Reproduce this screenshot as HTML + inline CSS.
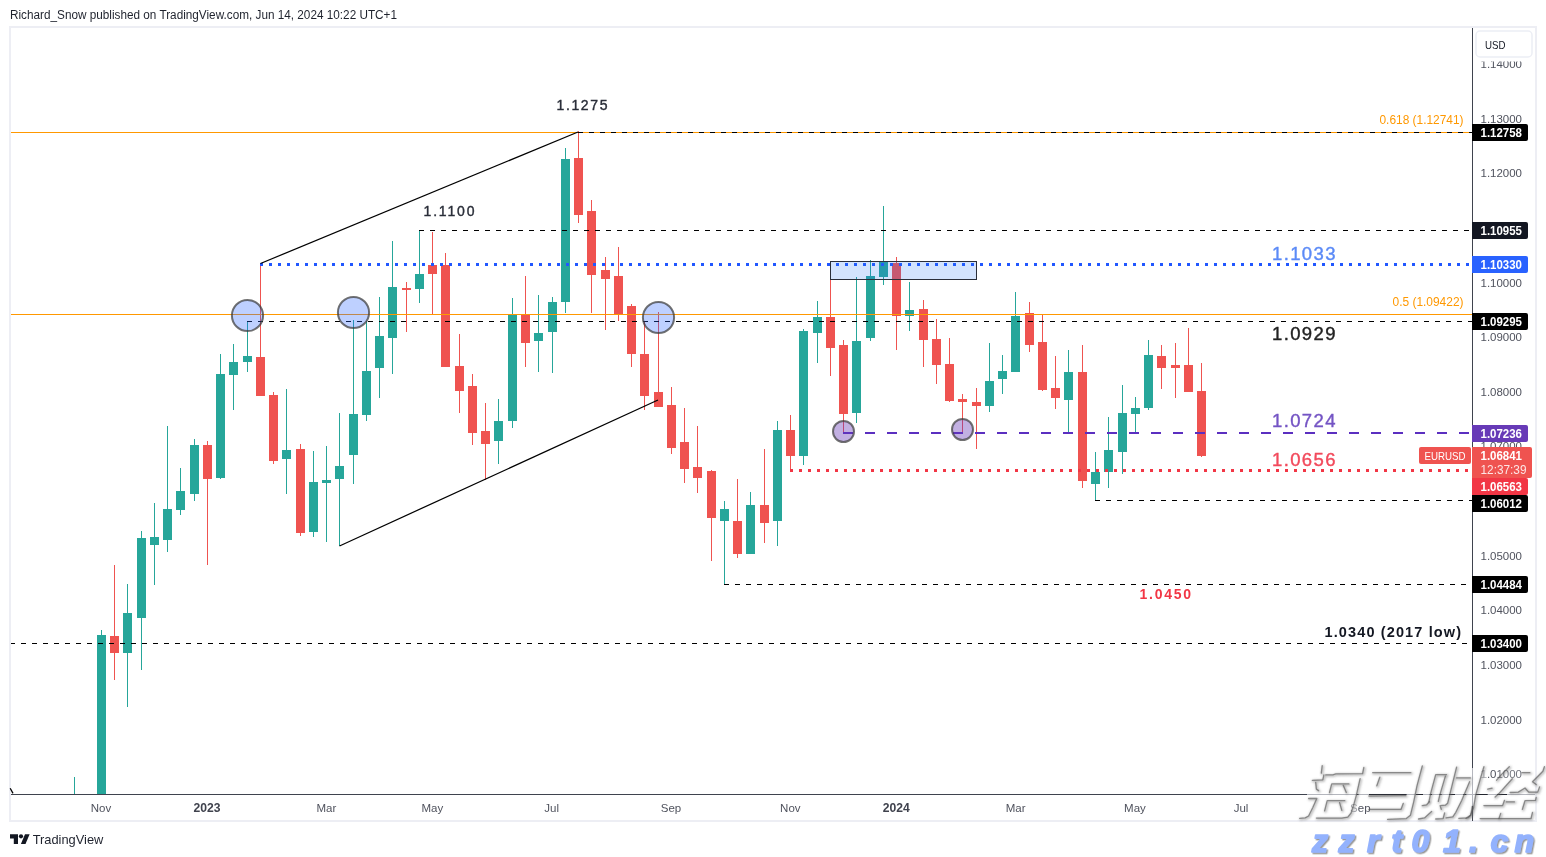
<!DOCTYPE html>
<html><head><meta charset="utf-8"><title>EURUSD weekly chart</title>
<style>html,body{margin:0;padding:0;background:#fff;}body{width:1546px;height:857px;overflow:hidden;}svg{display:block;font-family:"Liberation Sans",sans-serif;will-change:transform;}</style></head><body>
<svg width="1546" height="857" viewBox="0 0 1546 857">
<defs>
<clipPath id="pane"><rect x="11" y="28" width="1461" height="766"/></clipPath>
<filter id="wmsh" x="-5%" y="-10%" width="110%" height="125%"><feDropShadow dx="1.6" dy="1.6" stdDeviation="0.7" flood-color="#000" flood-opacity="0.6"/></filter>
<filter id="wmsh2" x="-5%" y="-10%" width="110%" height="130%"><feDropShadow dx="1.3" dy="1.3" stdDeviation="0.5" flood-color="#555" flood-opacity="0.55"/></filter>
</defs>
<rect width="1546" height="857" fill="#ffffff"/>
<text x="10" y="18.8" font-size="12" fill="#1e222d" textLength="387" lengthAdjust="spacingAndGlyphs">Richard_Snow published on TradingView.com, Jun 14, 2024 10:22 UTC+1</text>
<rect x="10" y="27" width="1526" height="794" fill="none" stroke="#edeef4" stroke-width="2"/>
<g clip-path="url(#pane)" shape-rendering="crispEdges">
<rect x="74" y="777" width="1" height="20" fill="#26a69a"/>
<rect x="101" y="630" width="1" height="164" fill="#26a69a"/>
<rect x="97" y="635" width="9" height="159" fill="#26a69a"/>
<rect x="114" y="565" width="1" height="115" fill="#ef5350"/>
<rect x="110" y="636" width="9" height="17" fill="#ef5350"/>
<rect x="127" y="584" width="1" height="123" fill="#26a69a"/>
<rect x="123" y="613" width="9" height="40" fill="#26a69a"/>
<rect x="141" y="531" width="1" height="139" fill="#26a69a"/>
<rect x="137" y="538" width="9" height="80" fill="#26a69a"/>
<rect x="154" y="503" width="1" height="82" fill="#26a69a"/>
<rect x="150" y="537" width="9" height="8" fill="#26a69a"/>
<rect x="167" y="426" width="1" height="126" fill="#26a69a"/>
<rect x="163" y="509" width="9" height="31" fill="#26a69a"/>
<rect x="180" y="468" width="1" height="47" fill="#26a69a"/>
<rect x="176" y="491" width="9" height="19" fill="#26a69a"/>
<rect x="194" y="439" width="1" height="62" fill="#26a69a"/>
<rect x="190" y="445" width="9" height="49" fill="#26a69a"/>
<rect x="207" y="441" width="1" height="124" fill="#ef5350"/>
<rect x="203" y="445" width="9" height="34" fill="#ef5350"/>
<rect x="220" y="354" width="1" height="125" fill="#26a69a"/>
<rect x="216" y="374" width="9" height="104" fill="#26a69a"/>
<rect x="233" y="344" width="1" height="66" fill="#26a69a"/>
<rect x="229" y="362" width="9" height="13" fill="#26a69a"/>
<rect x="247" y="321" width="1" height="51" fill="#26a69a"/>
<rect x="243" y="356" width="9" height="6" fill="#26a69a"/>
<rect x="260" y="264" width="1" height="132" fill="#ef5350"/>
<rect x="256" y="357" width="9" height="39" fill="#ef5350"/>
<rect x="273" y="392" width="1" height="72" fill="#ef5350"/>
<rect x="269" y="395" width="9" height="66" fill="#ef5350"/>
<rect x="286" y="389" width="1" height="105" fill="#26a69a"/>
<rect x="282" y="450" width="9" height="9" fill="#26a69a"/>
<rect x="300" y="444" width="1" height="92" fill="#ef5350"/>
<rect x="296" y="449" width="9" height="84" fill="#ef5350"/>
<rect x="313" y="451" width="1" height="86" fill="#26a69a"/>
<rect x="309" y="482" width="9" height="50" fill="#26a69a"/>
<rect x="326" y="446" width="1" height="96" fill="#26a69a"/>
<rect x="322" y="480" width="9" height="3" fill="#26a69a"/>
<rect x="339" y="413" width="1" height="133" fill="#26a69a"/>
<rect x="335" y="466" width="9" height="13" fill="#26a69a"/>
<rect x="353" y="320" width="1" height="164" fill="#26a69a"/>
<rect x="349" y="414" width="9" height="41" fill="#26a69a"/>
<rect x="366" y="321" width="1" height="100" fill="#26a69a"/>
<rect x="362" y="371" width="9" height="44" fill="#26a69a"/>
<rect x="379" y="297" width="1" height="101" fill="#26a69a"/>
<rect x="375" y="336" width="9" height="32" fill="#26a69a"/>
<rect x="392" y="241" width="1" height="133" fill="#26a69a"/>
<rect x="388" y="287" width="9" height="51" fill="#26a69a"/>
<rect x="406" y="282" width="1" height="50" fill="#ef5350"/>
<rect x="402" y="288" width="9" height="2" fill="#ef5350"/>
<rect x="419" y="230" width="1" height="73" fill="#26a69a"/>
<rect x="415" y="274" width="9" height="15" fill="#26a69a"/>
<rect x="432" y="232" width="1" height="82" fill="#ef5350"/>
<rect x="428" y="265" width="9" height="9" fill="#ef5350"/>
<rect x="445" y="253" width="1" height="114" fill="#ef5350"/>
<rect x="441" y="265" width="9" height="102" fill="#ef5350"/>
<rect x="459" y="334" width="1" height="79" fill="#ef5350"/>
<rect x="455" y="366" width="9" height="25" fill="#ef5350"/>
<rect x="472" y="374" width="1" height="71" fill="#ef5350"/>
<rect x="468" y="386" width="9" height="47" fill="#ef5350"/>
<rect x="485" y="403" width="1" height="77" fill="#ef5350"/>
<rect x="481" y="431" width="9" height="13" fill="#ef5350"/>
<rect x="498" y="399" width="1" height="65" fill="#26a69a"/>
<rect x="494" y="421" width="9" height="20" fill="#26a69a"/>
<rect x="512" y="298" width="1" height="130" fill="#26a69a"/>
<rect x="508" y="315" width="9" height="106" fill="#26a69a"/>
<rect x="525" y="276" width="1" height="91" fill="#ef5350"/>
<rect x="521" y="315" width="9" height="28" fill="#ef5350"/>
<rect x="538" y="295" width="1" height="77" fill="#26a69a"/>
<rect x="534" y="333" width="9" height="8" fill="#26a69a"/>
<rect x="552" y="297" width="1" height="76" fill="#26a69a"/>
<rect x="548" y="302" width="9" height="30" fill="#26a69a"/>
<rect x="565" y="148" width="1" height="165" fill="#26a69a"/>
<rect x="561" y="159" width="9" height="143" fill="#26a69a"/>
<rect x="578" y="131" width="1" height="92" fill="#ef5350"/>
<rect x="574" y="158" width="9" height="57" fill="#ef5350"/>
<rect x="591" y="200" width="1" height="113" fill="#ef5350"/>
<rect x="587" y="211" width="9" height="64" fill="#ef5350"/>
<rect x="605" y="257" width="1" height="73" fill="#ef5350"/>
<rect x="601" y="270" width="9" height="9" fill="#ef5350"/>
<rect x="618" y="247" width="1" height="74" fill="#ef5350"/>
<rect x="614" y="276" width="9" height="38" fill="#ef5350"/>
<rect x="631" y="304" width="1" height="63" fill="#ef5350"/>
<rect x="627" y="306" width="9" height="48" fill="#ef5350"/>
<rect x="644" y="321" width="1" height="89" fill="#ef5350"/>
<rect x="640" y="354" width="9" height="42" fill="#ef5350"/>
<rect x="658" y="312" width="1" height="95" fill="#ef5350"/>
<rect x="654" y="392" width="9" height="15" fill="#ef5350"/>
<rect x="671" y="387" width="1" height="67" fill="#ef5350"/>
<rect x="667" y="405" width="9" height="43" fill="#ef5350"/>
<rect x="684" y="408" width="1" height="75" fill="#ef5350"/>
<rect x="680" y="442" width="9" height="27" fill="#ef5350"/>
<rect x="697" y="426" width="1" height="67" fill="#ef5350"/>
<rect x="693" y="467" width="9" height="11" fill="#ef5350"/>
<rect x="711" y="470" width="1" height="91" fill="#ef5350"/>
<rect x="707" y="471" width="9" height="47" fill="#ef5350"/>
<rect x="724" y="501" width="1" height="83" fill="#26a69a"/>
<rect x="720" y="509" width="9" height="12" fill="#26a69a"/>
<rect x="737" y="479" width="1" height="79" fill="#ef5350"/>
<rect x="733" y="521" width="9" height="33" fill="#ef5350"/>
<rect x="750" y="492" width="1" height="62" fill="#26a69a"/>
<rect x="746" y="505" width="9" height="49" fill="#26a69a"/>
<rect x="764" y="449" width="1" height="94" fill="#ef5350"/>
<rect x="760" y="505" width="9" height="18" fill="#ef5350"/>
<rect x="777" y="421" width="1" height="125" fill="#26a69a"/>
<rect x="773" y="430" width="9" height="91" fill="#26a69a"/>
<rect x="790" y="415" width="1" height="57" fill="#ef5350"/>
<rect x="786" y="430" width="9" height="26" fill="#ef5350"/>
<rect x="803" y="329" width="1" height="136" fill="#26a69a"/>
<rect x="799" y="331" width="9" height="125" fill="#26a69a"/>
<rect x="817" y="301" width="1" height="62" fill="#26a69a"/>
<rect x="813" y="317" width="9" height="16" fill="#26a69a"/>
<rect x="830" y="261" width="1" height="115" fill="#ef5350"/>
<rect x="826" y="317" width="9" height="31" fill="#ef5350"/>
<rect x="843" y="340" width="1" height="92" fill="#ef5350"/>
<rect x="839" y="345" width="9" height="69" fill="#ef5350"/>
<rect x="856" y="277" width="1" height="146" fill="#26a69a"/>
<rect x="852" y="341" width="9" height="72" fill="#26a69a"/>
<rect x="870" y="260" width="1" height="81" fill="#26a69a"/>
<rect x="866" y="276" width="9" height="62" fill="#26a69a"/>
<rect x="883" y="206" width="1" height="79" fill="#26a69a"/>
<rect x="879" y="262" width="9" height="15" fill="#26a69a"/>
<rect x="896" y="257" width="1" height="93" fill="#ef5350"/>
<rect x="892" y="263" width="9" height="53" fill="#ef5350"/>
<rect x="909" y="282" width="1" height="49" fill="#26a69a"/>
<rect x="905" y="310" width="9" height="6" fill="#26a69a"/>
<rect x="923" y="300" width="1" height="67" fill="#ef5350"/>
<rect x="919" y="309" width="9" height="31" fill="#ef5350"/>
<rect x="936" y="319" width="1" height="65" fill="#ef5350"/>
<rect x="932" y="339" width="9" height="26" fill="#ef5350"/>
<rect x="949" y="338" width="1" height="64" fill="#ef5350"/>
<rect x="945" y="364" width="9" height="37" fill="#ef5350"/>
<rect x="962" y="394" width="1" height="38" fill="#ef5350"/>
<rect x="958" y="399" width="9" height="3" fill="#ef5350"/>
<rect x="976" y="388" width="1" height="61" fill="#ef5350"/>
<rect x="972" y="402" width="9" height="4" fill="#ef5350"/>
<rect x="989" y="343" width="1" height="69" fill="#26a69a"/>
<rect x="985" y="381" width="9" height="25" fill="#26a69a"/>
<rect x="1002" y="355" width="1" height="39" fill="#26a69a"/>
<rect x="998" y="371" width="9" height="8" fill="#26a69a"/>
<rect x="1015" y="292" width="1" height="80" fill="#26a69a"/>
<rect x="1011" y="316" width="9" height="56" fill="#26a69a"/>
<rect x="1029" y="302" width="1" height="50" fill="#ef5350"/>
<rect x="1025" y="313" width="9" height="32" fill="#ef5350"/>
<rect x="1042" y="315" width="1" height="76" fill="#ef5350"/>
<rect x="1038" y="342" width="9" height="48" fill="#ef5350"/>
<rect x="1055" y="356" width="1" height="53" fill="#ef5350"/>
<rect x="1051" y="388" width="9" height="10" fill="#ef5350"/>
<rect x="1068" y="350" width="1" height="83" fill="#26a69a"/>
<rect x="1064" y="372" width="9" height="28" fill="#26a69a"/>
<rect x="1082" y="345" width="1" height="143" fill="#ef5350"/>
<rect x="1078" y="372" width="9" height="109" fill="#ef5350"/>
<rect x="1095" y="452" width="1" height="48" fill="#26a69a"/>
<rect x="1091" y="472" width="9" height="12" fill="#26a69a"/>
<rect x="1108" y="417" width="1" height="71" fill="#26a69a"/>
<rect x="1104" y="450" width="9" height="22" fill="#26a69a"/>
<rect x="1122" y="385" width="1" height="89" fill="#26a69a"/>
<rect x="1118" y="413" width="9" height="39" fill="#26a69a"/>
<rect x="1135" y="397" width="1" height="36" fill="#26a69a"/>
<rect x="1131" y="408" width="9" height="6" fill="#26a69a"/>
<rect x="1148" y="340" width="1" height="70" fill="#26a69a"/>
<rect x="1144" y="355" width="9" height="53" fill="#26a69a"/>
<rect x="1161" y="345" width="1" height="44" fill="#ef5350"/>
<rect x="1157" y="356" width="9" height="12" fill="#ef5350"/>
<rect x="1175" y="343" width="1" height="55" fill="#ef5350"/>
<rect x="1171" y="365" width="9" height="3" fill="#ef5350"/>
<rect x="1188" y="328" width="1" height="64" fill="#ef5350"/>
<rect x="1184" y="365" width="9" height="27" fill="#ef5350"/>
<rect x="1201" y="363" width="1" height="94" fill="#ef5350"/>
<rect x="1197" y="391" width="9" height="65" fill="#ef5350"/>
</g>
<g clip-path="url(#pane)">
<rect x="11" y="132" width="1461" height="1" fill="#ff9800"/>
<rect x="11" y="314" width="1461" height="1" fill="#ff9800"/>
<line x1="578" y1="132.5" x2="1472" y2="132.5" stroke="#000" stroke-width="1" stroke-dasharray="5 6" stroke-dashoffset="0" shape-rendering="crispEdges"/>
<line x1="419" y1="230.5" x2="1472" y2="230.5" stroke="#000" stroke-width="1" stroke-dasharray="5 6" stroke-dashoffset="0" shape-rendering="crispEdges"/>
<line x1="247" y1="321.5" x2="1472" y2="321.5" stroke="#000" stroke-width="1" stroke-dasharray="5 6" stroke-dashoffset="0" shape-rendering="crispEdges"/>
<line x1="1095" y1="500.5" x2="1472" y2="500.5" stroke="#000" stroke-width="1" stroke-dasharray="5 6" stroke-dashoffset="0" shape-rendering="crispEdges"/>
<line x1="724" y1="584.5" x2="1472" y2="584.5" stroke="#000" stroke-width="1" stroke-dasharray="5 6" stroke-dashoffset="0" shape-rendering="crispEdges"/>
<line x1="11" y1="643.5" x2="1472" y2="643.5" stroke="#000" stroke-width="1" stroke-dasharray="5 6" stroke-dashoffset="1" shape-rendering="crispEdges"/>
<line x1="260" y1="264.5" x2="1472" y2="264.5" stroke="#2157ff" stroke-width="3" stroke-dasharray="3 6" shape-rendering="crispEdges"/>
<line x1="790" y1="470.5" x2="1472" y2="470.5" stroke="#f23645" stroke-width="3" stroke-dasharray="3 6" shape-rendering="crispEdges"/>
<line x1="843" y1="433" x2="1472" y2="433" stroke="#5b2fc0" stroke-width="2" stroke-dasharray="10 12" shape-rendering="crispEdges"/>
<rect x="830.5" y="261.5" width="146" height="18" fill="#2373f3" fill-opacity="0.2" stroke="#2a2e39" stroke-width="1"/>
<line x1="260.5" y1="263.5" x2="578" y2="132" stroke="#000" stroke-width="1.25"/>
<line x1="339.5" y1="546" x2="658" y2="400" stroke="#000" stroke-width="1.25"/>
<circle cx="247.5" cy="315.5" r="15.6" fill="#2962ff" fill-opacity="0.3" stroke="#3c3c3c" stroke-opacity="0.72" stroke-width="2"/>
<circle cx="353.5" cy="312.5" r="15.6" fill="#2962ff" fill-opacity="0.3" stroke="#3c3c3c" stroke-opacity="0.72" stroke-width="2"/>
<circle cx="658.5" cy="317.5" r="15.6" fill="#2962ff" fill-opacity="0.3" stroke="#3c3c3c" stroke-opacity="0.72" stroke-width="2"/>
<circle cx="843.5" cy="431.5" r="10.5" fill="#673ab7" fill-opacity="0.4" stroke="#3c3c3c" stroke-opacity="0.72" stroke-width="2"/>
<circle cx="962.5" cy="429.5" r="10.5" fill="#673ab7" fill-opacity="0.4" stroke="#3c3c3c" stroke-opacity="0.72" stroke-width="2"/>
</g>
<line x1="10.2" y1="788.3" x2="13" y2="793.4" stroke="#000" stroke-width="1.25"/>
<text x="556.5" y="110" font-size="14" fill="#2a2e39" textLength="51" lengthAdjust="spacing" stroke="#2a2e39" stroke-width="0.4">1.1275</text>
<text x="423.5" y="215.5" font-size="14" fill="#2a2e39" textLength="51" lengthAdjust="spacing" stroke="#2a2e39" stroke-width="0.4">1.1100</text>
<text x="1272" y="259.5" font-size="18.5" fill="#5b8af7" textLength="63.5" lengthAdjust="spacing" stroke="#5b8af7" stroke-width="0.4">1.1033</text>
<text x="1272" y="339.5" font-size="18.5" fill="#222222" textLength="63.5" lengthAdjust="spacing" stroke="#222" stroke-width="0.4">1.0929</text>
<text x="1272" y="427" font-size="18.5" fill="#7454c4" textLength="63.5" lengthAdjust="spacing" stroke="#7454c4" stroke-width="0.4">1.0724</text>
<text x="1272" y="466" font-size="18.5" fill="#f24a5c" textLength="63.5" lengthAdjust="spacing" stroke="#f24a5c" stroke-width="0.4">1.0656</text>
<text x="1139.5" y="599" font-size="14" fill="#f23645" font-weight="bold" textLength="51.5" lengthAdjust="spacing">1.0450</text>
<text x="1324.5" y="637" font-size="14.5" fill="#131722" font-weight="bold" textLength="136.5" lengthAdjust="spacing">1.0340 (2017 low)</text>
<text x="1379.5" y="124" font-size="12" fill="#ff9800" textLength="84" lengthAdjust="spacingAndGlyphs">0.618 (1.12741)</text>
<text x="1392.5" y="306" font-size="12" fill="#ff9800" textLength="71" lengthAdjust="spacingAndGlyphs">0.5 (1.09422)</text>
<rect x="1472" y="28" width="1" height="740" fill="#3f434e"/>
<rect x="1472" y="768" width="1" height="38" fill="#b4b6bd"/>
<rect x="1472" y="806" width="1" height="15" fill="#3f434e"/>
<rect x="11" y="794" width="1296" height="1" fill="#3f434e"/>
<rect x="1307" y="794" width="228" height="1" fill="#b4b6bd"/>
<rect x="1356.7" y="794" width="1.8" height="1" fill="#23262f"/>
<rect x="1369" y="794" width="37.6" height="1" fill="#23262f"/>
<rect x="1416" y="794" width="7.0" height="1" fill="#23262f"/>
<rect x="1429.7" y="794" width="2.3" height="1" fill="#23262f"/>
<rect x="1439.4" y="794" width="2.2" height="1" fill="#23262f"/>
<rect x="1449" y="794" width="6.0" height="1" fill="#23262f"/>
<rect x="1463.3" y="794" width="3.0" height="1" fill="#23262f"/>
<rect x="1475.7" y="794" width="12.0" height="1" fill="#23262f"/>
<rect x="1497" y="794" width="10.0" height="1" fill="#23262f"/>
<clipPath id="axclip"><rect x="1473" y="61.4" width="62" height="734"/></clipPath>
<g clip-path="url(#axclip)">
<text x="1480.5" y="68.1" font-size="11.5" fill="#50535e" textLength="41.5" lengthAdjust="spacingAndGlyphs">1.14000</text>
<text x="1480.5" y="122.7" font-size="11.5" fill="#50535e" textLength="41.5" lengthAdjust="spacingAndGlyphs">1.13000</text>
<text x="1480.5" y="177.29999999999998" font-size="11.5" fill="#50535e" textLength="41.5" lengthAdjust="spacingAndGlyphs">1.12000</text>
<text x="1480.5" y="286.59999999999997" font-size="11.5" fill="#50535e" textLength="41.5" lengthAdjust="spacingAndGlyphs">1.10000</text>
<text x="1480.5" y="341.2" font-size="11.5" fill="#50535e" textLength="41.5" lengthAdjust="spacingAndGlyphs">1.09000</text>
<text x="1480.5" y="395.8" font-size="11.5" fill="#50535e" textLength="41.5" lengthAdjust="spacingAndGlyphs">1.08000</text>
<text x="1480.5" y="450.4" font-size="11.5" fill="#50535e" textLength="41.5" lengthAdjust="spacingAndGlyphs">1.07000</text>
<text x="1480.5" y="559.7" font-size="11.5" fill="#50535e" textLength="41.5" lengthAdjust="spacingAndGlyphs">1.05000</text>
<text x="1480.5" y="614.3000000000001" font-size="11.5" fill="#50535e" textLength="41.5" lengthAdjust="spacingAndGlyphs">1.04000</text>
<text x="1480.5" y="668.9000000000001" font-size="11.5" fill="#50535e" textLength="41.5" lengthAdjust="spacingAndGlyphs">1.03000</text>
<text x="1480.5" y="723.6" font-size="11.5" fill="#50535e" textLength="41.5" lengthAdjust="spacingAndGlyphs">1.02000</text>
<text x="1480.5" y="778.2" font-size="11.5" fill="#50535e" textLength="41.5" lengthAdjust="spacingAndGlyphs">1.01000</text>
</g>
<rect x="1472" y="124" width="56" height="17" rx="2" ry="2" fill="#000000"/>
<rect x="1472" y="124" width="3" height="17" fill="#000000"/>
<text x="1480.5" y="137" font-size="12" fill="#ffffff" font-weight="bold" textLength="41.5" lengthAdjust="spacingAndGlyphs">1.12758</text>
<rect x="1472" y="222" width="56" height="17" rx="2" ry="2" fill="#131722"/>
<rect x="1472" y="222" width="3" height="17" fill="#131722"/>
<text x="1480.5" y="235" font-size="12" fill="#ffffff" font-weight="bold" textLength="41.5" lengthAdjust="spacingAndGlyphs">1.10955</text>
<rect x="1472" y="256" width="56" height="17" rx="2" ry="2" fill="#2962ff"/>
<rect x="1472" y="256" width="3" height="17" fill="#2962ff"/>
<text x="1480.5" y="269" font-size="12" fill="#ffffff" font-weight="bold" textLength="41.5" lengthAdjust="spacingAndGlyphs">1.10330</text>
<rect x="1472" y="313" width="56" height="17" rx="2" ry="2" fill="#000000"/>
<rect x="1472" y="313" width="3" height="17" fill="#000000"/>
<text x="1480.5" y="326" font-size="12" fill="#ffffff" font-weight="bold" textLength="41.5" lengthAdjust="spacingAndGlyphs">1.09295</text>
<rect x="1472" y="425" width="56" height="17" rx="2" ry="2" fill="#673ab7"/>
<rect x="1472" y="425" width="3" height="17" fill="#673ab7"/>
<text x="1480.5" y="438" font-size="12" fill="#ffffff" font-weight="bold" textLength="41.5" lengthAdjust="spacingAndGlyphs">1.07236</text>
<rect x="1419" y="447" width="52" height="17" rx="2" ry="2" fill="#ef5350"/>
<text x="1424.5" y="460" font-size="11.5" fill="#ffffff" textLength="41" lengthAdjust="spacingAndGlyphs">EURUSD</text>
<rect x="1472" y="447" width="60" height="31" rx="2" ry="2" fill="#ef5350"/>
<rect x="1472" y="447" width="3" height="31" fill="#ef5350"/>
<text x="1480.5" y="460" font-size="12" fill="#ffffff" font-weight="bold" textLength="41.5" lengthAdjust="spacingAndGlyphs">1.06841</text>
<text x="1480.5" y="474" font-size="12" fill="#ffffff" textLength="46" lengthAdjust="spacingAndGlyphs" fill-opacity="0.85">12:37:39</text>
<rect x="1472" y="478" width="56" height="17" rx="2" ry="2" fill="#f23645"/>
<rect x="1472" y="478" width="3" height="17" fill="#f23645"/>
<text x="1480.5" y="491" font-size="12" fill="#ffffff" font-weight="bold" textLength="41.5" lengthAdjust="spacingAndGlyphs">1.06563</text>
<rect x="1472" y="495" width="56" height="17" rx="2" ry="2" fill="#000000"/>
<rect x="1472" y="495" width="3" height="17" fill="#000000"/>
<text x="1480.5" y="508" font-size="12" fill="#ffffff" font-weight="bold" textLength="41.5" lengthAdjust="spacingAndGlyphs">1.06012</text>
<rect x="1472" y="576" width="56" height="17" rx="2" ry="2" fill="#000000"/>
<rect x="1472" y="576" width="3" height="17" fill="#000000"/>
<text x="1480.5" y="589" font-size="12" fill="#ffffff" font-weight="bold" textLength="41.5" lengthAdjust="spacingAndGlyphs">1.04484</text>
<rect x="1472" y="635" width="56" height="17" rx="2" ry="2" fill="#000000"/>
<rect x="1472" y="635" width="3" height="17" fill="#000000"/>
<text x="1480.5" y="648" font-size="12" fill="#ffffff" font-weight="bold" textLength="41.5" lengthAdjust="spacingAndGlyphs">1.03400</text>
<rect x="1476" y="31" width="56" height="26" rx="4" ry="4" fill="#ffffff" stroke="#eceef5" stroke-width="1.5"/>
<text x="1485" y="48.7" font-size="11.5" fill="#131722" textLength="20.5" lengthAdjust="spacingAndGlyphs">USD</text>
<text x="101.0" y="812" font-size="11.5" fill="#50535e" text-anchor="middle">Nov</text>
<text x="207.048" y="812" font-size="12" fill="#40434e" font-weight="bold" text-anchor="middle" textLength="27" lengthAdjust="spacingAndGlyphs">2023</text>
<text x="326.352" y="812" font-size="11.5" fill="#50535e" text-anchor="middle">Mar</text>
<text x="432.4" y="812" font-size="11.5" fill="#50535e" text-anchor="middle">May</text>
<text x="551.7040000000001" y="812" font-size="11.5" fill="#50535e" text-anchor="middle">Jul</text>
<text x="671.008" y="812" font-size="11.5" fill="#50535e" text-anchor="middle">Sep</text>
<text x="790.312" y="812" font-size="11.5" fill="#50535e" text-anchor="middle">Nov</text>
<text x="896.36" y="812" font-size="12" fill="#40434e" font-weight="bold" text-anchor="middle" textLength="27" lengthAdjust="spacingAndGlyphs">2024</text>
<text x="1015.664" y="812" font-size="11.5" fill="#50535e" text-anchor="middle">Mar</text>
<text x="1134.968" y="812" font-size="11.5" fill="#50535e" text-anchor="middle">May</text>
<text x="1241.016" y="812" font-size="11.5" fill="#50535e" text-anchor="middle">Jul</text>
<text x="1360.32" y="812" font-size="11.5" fill="#50535e" text-anchor="middle">Sep</text>
<g fill="#131722">
<path d="M10 834.3h8v9.7h-4.2v-5.6H10z"/>
<circle cx="21" cy="836.3" r="2.1"/>
<path d="M25 834.3h4.6l-4.1 9.7h-4.6z"/>
</g>
<text x="32.7" y="843.8" font-size="13" fill="#1e222d" textLength="70.7" lengthAdjust="spacingAndGlyphs">TradingView</text>
<rect x="1348" y="800" width="9.5" height="16" fill="#fff" fill-opacity="0.5"/>
<rect x="1478" y="762" width="8" height="16" fill="#fff" fill-opacity="0.5"/>
<rect x="1499" y="762" width="25" height="16" fill="#fff" fill-opacity="0.2"/>
<filter id="wmblur" x="-5%" y="-5%" width="110%" height="110%"><feGaussianBlur stdDeviation="0.4"/></filter>
<filter id="wmblur2" x="-5%" y="-5%" width="110%" height="110%"><feGaussianBlur stdDeviation="0.9"/></filter>
<g filter="url(#wmblur2)" transform="translate(0.8,0.8)" fill="none" stroke="#666" stroke-opacity="0.42" stroke-width="2.6" stroke-linejoin="round" stroke-linecap="round">
<polyline points="1322.2,765.6 1321.3,773.1"/>
<polyline points="1323.9,774.9 1322.8,779.8 1312.3,780.3"/>
<polyline points="1363.8,767.5 1362.6,773.6 1335.8,773.8 1332.8,774.9 1325.7,774.9"/>
<polyline points="1315.7,782.4 1316.4,789.1 1318.6,790.6"/>
<polyline points="1360.1,778.7 1356.4,795.1 1353.7,804.8 1351.1,813.0 1347.8,817.1 1341.8,818.1 1316.4,818.1"/>
<polyline points="1329.5,792.5 1331.7,783.9 1348.9,783.9"/>
<polyline points="1343.3,785.4 1346.3,792.5"/>
<polyline points="1324.6,810.8 1327.2,800.7 1344.8,800.7"/>
<polyline points="1339.6,802.6 1341.8,810.4"/>
<polyline points="1308.6,798.5 1316.8,798.5 1312.7,807.8 1308.6,816.0 1305.2,817.9 1299.6,818.3"/>
<polyline points="1372.7,772.7 1410.8,772.7"/>
<polyline points="1379.8,777.2 1376.8,785.8"/>
<polyline points="1422.3,766.0 1417.1,785.4 1413.7,801.8 1410.4,815.3 1406.3,818.6 1387.6,819.4"/>
<polyline points="1368.9,796.0 1405.9,795.7"/>
<polyline points="1403.3,803.3 1401.1,809.3 1368.9,809.3"/>
<polyline points="1428.9,801.8 1430.8,792.9 1435.7,774.6 1446.5,774.6"/>
<polyline points="1445.4,776.1 1439.8,795.1 1438.3,801.4"/>
<polyline points="1456.6,767.1 1447.6,803.3 1445.4,805.2 1440.1,805.6 1441.3,809.3"/>
<polyline points="1422.2,805.6 1426.7,804.8 1429.3,801.8"/>
<polyline points="1418.5,819.0 1424.5,817.9 1431.6,811.5"/>
<polyline points="1435.7,819.0 1443.1,818.6 1444.6,813.0"/>
<polyline points="1456.6,777.9 1470.4,777.9"/>
<polyline points="1469.6,781.7 1461.8,800.3 1455.8,812.3 1452.8,816.8 1446.1,817.9"/>
<polyline points="1472.3,806.3 1470.8,815.3 1467.8,817.9 1458.8,818.3"/>
<polyline points="1483.9,766.7 1480.6,777.9 1475.7,795.1 1473.5,807.8 1470.5,815.3 1466.0,818.3"/>
<polyline points="1509.3,766.7 1501.1,774.9 1496.6,780.2"/>
<polyline points="1512.3,778.7 1498.9,793.6 1495.1,797.0"/>
<polyline points="1487.7,789.1 1492.1,788.2"/>
<polyline points="1483.9,805.6 1502.6,805.6 1504.5,800.3"/>
<polyline points="1480.2,818.6 1498.9,818.6 1500.7,813.4"/>
<polyline points="1522.0,772.7 1529.9,772.7"/>
<polyline points="1544.4,766.7 1542.9,771.2 1532.5,781.7 1536.2,784.6"/>
<polyline points="1510.1,792.5 1518.3,792.1 1525.0,788.0 1528.7,792.1 1537.7,792.1 1539.6,786.9"/>
<polyline points="1506.3,801.8 1514.5,801.8"/>
<polyline points="1536.2,797.3 1535.5,800.3 1525.0,800.7 1522.4,809.3"/>
<polyline points="1498.9,818.6 1531.0,818.6 1532.5,812.3"/>
</g>
<g filter="url(#wmblur)" fill="none" stroke="#555" stroke-opacity="0.62" stroke-width="1.3" stroke-linejoin="round" stroke-linecap="round">
<polyline points="1322.2,765.6 1321.3,773.1"/>
<polyline points="1323.9,774.9 1322.8,779.8 1312.3,780.3"/>
<polyline points="1363.8,767.5 1362.6,773.6 1335.8,773.8 1332.8,774.9 1325.7,774.9"/>
<polyline points="1315.7,782.4 1316.4,789.1 1318.6,790.6"/>
<polyline points="1360.1,778.7 1356.4,795.1 1353.7,804.8 1351.1,813.0 1347.8,817.1 1341.8,818.1 1316.4,818.1"/>
<polyline points="1329.5,792.5 1331.7,783.9 1348.9,783.9"/>
<polyline points="1343.3,785.4 1346.3,792.5"/>
<polyline points="1324.6,810.8 1327.2,800.7 1344.8,800.7"/>
<polyline points="1339.6,802.6 1341.8,810.4"/>
<polyline points="1308.6,798.5 1316.8,798.5 1312.7,807.8 1308.6,816.0 1305.2,817.9 1299.6,818.3"/>
<polyline points="1372.7,772.7 1410.8,772.7"/>
<polyline points="1379.8,777.2 1376.8,785.8"/>
<polyline points="1422.3,766.0 1417.1,785.4 1413.7,801.8 1410.4,815.3 1406.3,818.6 1387.6,819.4"/>
<polyline points="1368.9,796.0 1405.9,795.7"/>
<polyline points="1403.3,803.3 1401.1,809.3 1368.9,809.3"/>
<polyline points="1428.9,801.8 1430.8,792.9 1435.7,774.6 1446.5,774.6"/>
<polyline points="1445.4,776.1 1439.8,795.1 1438.3,801.4"/>
<polyline points="1456.6,767.1 1447.6,803.3 1445.4,805.2 1440.1,805.6 1441.3,809.3"/>
<polyline points="1422.2,805.6 1426.7,804.8 1429.3,801.8"/>
<polyline points="1418.5,819.0 1424.5,817.9 1431.6,811.5"/>
<polyline points="1435.7,819.0 1443.1,818.6 1444.6,813.0"/>
<polyline points="1456.6,777.9 1470.4,777.9"/>
<polyline points="1469.6,781.7 1461.8,800.3 1455.8,812.3 1452.8,816.8 1446.1,817.9"/>
<polyline points="1472.3,806.3 1470.8,815.3 1467.8,817.9 1458.8,818.3"/>
<polyline points="1483.9,766.7 1480.6,777.9 1475.7,795.1 1473.5,807.8 1470.5,815.3 1466.0,818.3"/>
<polyline points="1509.3,766.7 1501.1,774.9 1496.6,780.2"/>
<polyline points="1512.3,778.7 1498.9,793.6 1495.1,797.0"/>
<polyline points="1487.7,789.1 1492.1,788.2"/>
<polyline points="1483.9,805.6 1502.6,805.6 1504.5,800.3"/>
<polyline points="1480.2,818.6 1498.9,818.6 1500.7,813.4"/>
<polyline points="1522.0,772.7 1529.9,772.7"/>
<polyline points="1544.4,766.7 1542.9,771.2 1532.5,781.7 1536.2,784.6"/>
<polyline points="1510.1,792.5 1518.3,792.1 1525.0,788.0 1528.7,792.1 1537.7,792.1 1539.6,786.9"/>
<polyline points="1506.3,801.8 1514.5,801.8"/>
<polyline points="1536.2,797.3 1535.5,800.3 1525.0,800.7 1522.4,809.3"/>
<polyline points="1498.9,818.6 1531.0,818.6 1532.5,812.3"/>
</g>
<filter id="wmsh3" x="-5%" y="-20%" width="110%" height="150%"><feDropShadow dx="1.4" dy="1.4" stdDeviation="0.5" flood-color="#555" flood-opacity="0.6"/></filter>
<text x="1312 1338.5 1367 1391.5 1411.5 1443 1469 1490.5 1514.5" y="852" font-size="32" font-weight="bold" font-style="italic" fill="#93b2fd" stroke="#93b2fd" stroke-width="1.6" stroke-linejoin="round" filter="url(#wmsh3)">zzrt01.cn</text>
</svg></body></html>
